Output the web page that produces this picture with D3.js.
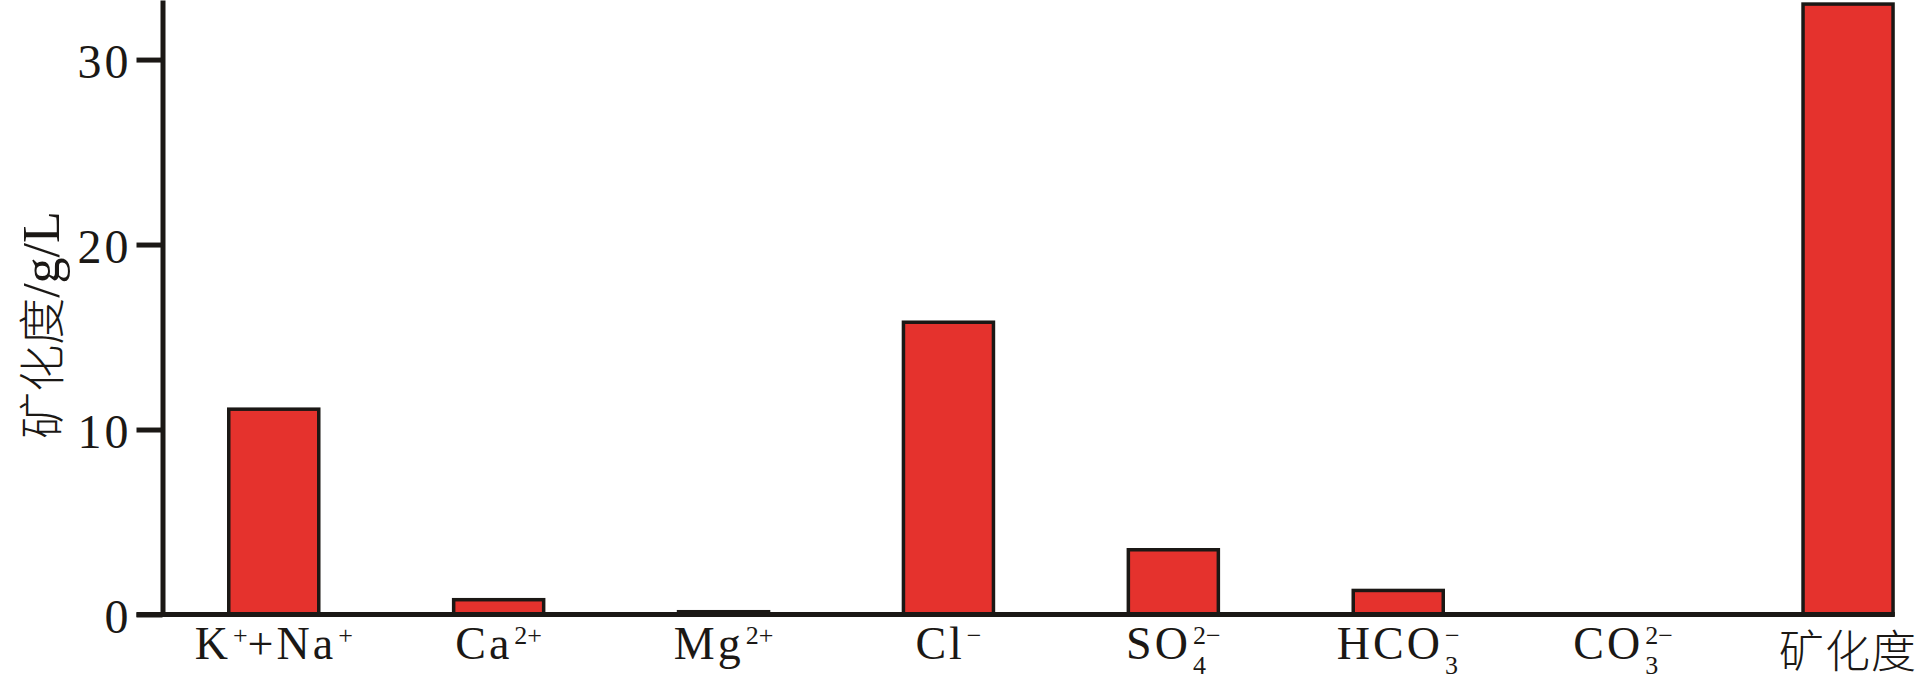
<!DOCTYPE html>
<html>
<head>
<meta charset="utf-8">
<script src="https://cdn.jsdelivr.net/npm/d3@7"></script>
<style>
  html, body { margin: 0; padding: 0; background: #ffffff; }
  svg { display: block; }
</style>
</head>
<body>
<svg id="chart" width="1924" height="682"></svg>
<script>
// ---- data ----
const categories = ["K+Na", "Ca", "Mg", "Cl", "SO4", "HCO3", "CO3", "矿化度"];
const values = [11.1, 0.8, 0.15, 15.8, 3.5, 1.3, 0, 33.0];
const yTicks = [0, 10, 20, 30];
const yMax = 33.22;
const yTitleParts = ["矿化度", "/g/L"];
// label segments: n = normal, sup = superscript, sub = subscript (sub+sup stacked)
const labelParts = [
  [{n: "K"}, {sup: "+"}, {n: "+Na"}, {sup: "+"}],
  [{n: "Ca"}, {sup: "2+"}],
  [{n: "Mg"}, {sup: "2+"}],
  [{n: "Cl"}, {sup: "−"}],
  [{n: "SO"}, {sub: "4", sup: "2−"}],
  [{n: "HCO"}, {sub: "3", sup: "−"}],
  [{n: "CO"}, {sub: "3", sup: "2−"}],
  [{n: "矿化度"}]
];

// ---- layout ----
const ink = "#1b1815";
const barFill = "#e5322d";
const axisX = 162.5;
const baseY = 614.5;

const svg = d3.select("#chart");

const x = d3.scaleBand()
  .domain(categories)
  .range([axisX, 1959.3])
  .paddingInner(0.5998)
  .paddingOuter(0.2946);

const y = d3.scaleLinear()
  .domain([0, yMax])
  .range([baseY, 0]);

// bars
svg.append("g")
  .selectAll("rect")
  .data(categories.map((c, i) => ({c, v: values[i]})).filter(d => d.v > 0))
  .join("rect")
  .attr("x", d => x(d.c))
  .attr("width", x.bandwidth())
  .attr("y", d => y(d.v))
  .attr("height", d => y(0) - y(d.v))
  .attr("fill", barFill)
  .attr("stroke", ink)
  .attr("stroke-width", 3.5);

// y axis
const yAxis = d3.axisLeft(y)
  .tickValues(yTicks)
  .tickSize(26)
  .tickSizeOuter(0)
  .tickPadding(5)
  .tickFormat(d3.format("d"));

const gy = svg.append("g")
  .attr("transform", `translate(${axisX},0)`)
  .call(yAxis);
gy.select(".domain").attr("stroke", ink).attr("stroke-width", 5);
gy.selectAll(".tick line").attr("stroke", ink).attr("stroke-width", 5);
gy.selectAll(".tick text")
  .attr("fill", ink)
  .attr("font-family", "'Liberation Serif', 'Times New Roman', serif")
  .attr("font-size", 48)
  .attr("letter-spacing", 3)
  .attr("dy", "0.37em");

// x axis baseline
const lastC = categories[categories.length - 1];
svg.append("line")
  .attr("x1", axisX - 26)
  .attr("x2", x(lastC) + x.bandwidth() + 1.75)
  .attr("y1", y(0))
  .attr("y2", y(0))
  .attr("stroke", ink)
  .attr("stroke-width", 5);

// x labels
const mainSize = 46, smallSize = 26;
const labelFont = "'Liberation Serif', 'Noto Sans CJK SC', serif";
const mainBase = 659, supBase = 644, subBase = 674;

categories.forEach((c, i) => {
  const g = svg.append("g");
  const t = g.append("text")
    .attr("fill", ink)
    .attr("font-family", labelFont);
  let cursor = 0;
  labelParts[i].forEach(p => {
    if (p.n !== undefined) {
      const isCJK = /[\u4e00-\u9fff]/.test(p.n);
      const ts = t.append("tspan")
        .attr("x", cursor).attr("y", isCJK ? 668 : mainBase)
        .attr("font-size", isCJK ? 45 : mainSize)
        .attr("font-family", isCJK ? "'Noto Sans CJK SC', sans-serif" : labelFont)
        .attr("font-weight", isCJK ? 300 : 400)
        .attr("letter-spacing", isCJK ? 1 : 3)
        .text(p.n);
      cursor += ts.node().getComputedTextLength() + (isCJK ? 0 : 1);
    } else {
      let w = 0;
      if (p.sub !== undefined) {
        const ts = t.append("tspan")
          .attr("x", cursor + 1).attr("y", subBase)
          .attr("font-size", smallSize)
          .text(p.sub);
        w = Math.max(w, ts.node().getComputedTextLength() + 1);
      }
      if (p.sup !== undefined) {
        const ts = t.append("tspan")
          .attr("x", cursor + 1).attr("y", supBase)
          .attr("font-size", smallSize)
          .text(p.sup);
        w = Math.max(w, ts.node().getComputedTextLength() + 1);
      }
      cursor += w;
    }
  });
  const cx = x(c) + x.bandwidth() / 2;
  g.attr("transform", `translate(${cx - cursor / 2},0)`);
});

// y title
const yt = svg.append("text")
  .attr("transform", `translate(59,325) rotate(-90)`)
  .attr("text-anchor", "middle")
  .attr("fill", ink)
  .attr("font-size", 47);
yt.append("tspan")
  .attr("font-family", "'Noto Sans CJK SC', sans-serif")
  .attr("font-weight", 300)
  .text(yTitleParts[0]);
yt.append("tspan")
  .attr("font-family", "'Liberation Serif', serif")
  .attr("font-weight", 400)
  .attr("font-size", 52)
  .text(yTitleParts[1]);
</script>
</body>
</html>
